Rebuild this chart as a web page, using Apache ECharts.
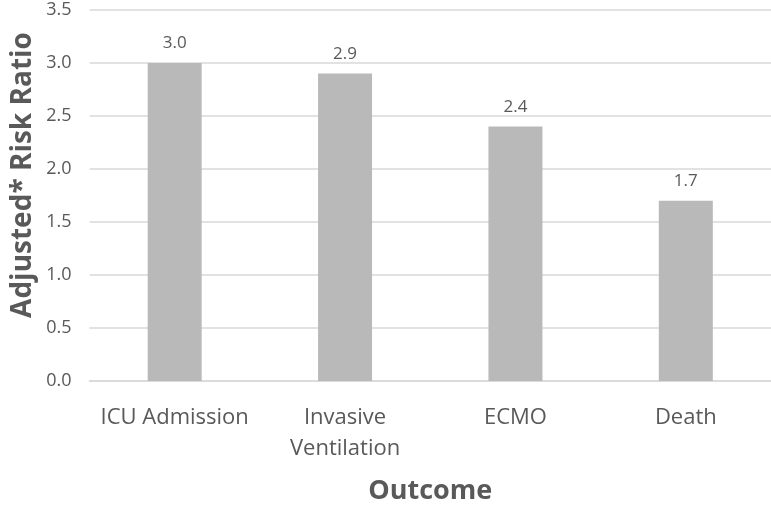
<!DOCTYPE html>
<html>
<head>
<meta charset="utf-8">
<script src="https://cdn.jsdelivr.net/npm/echarts@6/dist/echarts.min.js"></script>
<style>
html,body{margin:0;padding:0;background:#fff;}
#chart{width:771px;height:510px;}
</style>
</head>
<body>
<div id="chart"></div>
<script>
const categories = ['ICU Admission', 'Invasive\nVentilation', 'ECMO', 'Death'];
const riskRatios = [3.0, 2.9, 2.4, 1.7];
const xTitle = 'Outcome';
const yTitle = 'Adjusted* Risk Ratio';

const FONT = '"Open Sans", sans-serif';
const TXT = '#595959';

const chart = echarts.init(document.getElementById('chart'));
chart.setOption({
  animation: false,
  grid: { left: 89.5, right: -2.5, top: 10, bottom: 128, containLabel: false },
  xAxis: {
    type: 'category',
    data: categories,
    axisLine: { lineStyle: { color: '#d9d9d9', width: 1.5 } },
    axisTick: { show: false },
    axisLabel: { interval: 0, color: TXT, fontFamily: FONT, fontSize: 22, margin: 21, lineHeight: 31 },
    name: xTitle,
    nameLocation: 'middle',
    nameGap: 97,
    nameTextStyle: { color: TXT, fontFamily: FONT, fontSize: 27, fontWeight: 'bold' }
  },
  yAxis: {
    type: 'value',
    min: 0, max: 3.5, interval: 0.5,
    axisLine: { show: false },
    axisTick: { show: false },
    splitLine: { lineStyle: { color: '#d9d9d9', width: 1.5 } },
    axisLabel: { color: TXT, fontFamily: FONT, fontSize: 18, margin: 18,
      formatter: v => v.toFixed(1) }
  },
  graphic: [{
    type: 'text',
    x: 23, y: 175,
    rotation: Math.PI / 2,
    style: { text: yTitle, fill: TXT, font: 'bold 28px "Open Sans", sans-serif',
      align: 'center', verticalAlign: 'middle' }
  }],
  series: [{
    type: 'bar',
    data: riskRatios,
    barWidth: 54,
    itemStyle: { color: '#b9b9b9' },
    label: { show: true, position: 'top', distance: 11, color: TXT, fontFamily: FONT, fontSize: 17,
      formatter: p => p.value.toFixed(1) }
  }]
});
</script>
</body>
</html>
